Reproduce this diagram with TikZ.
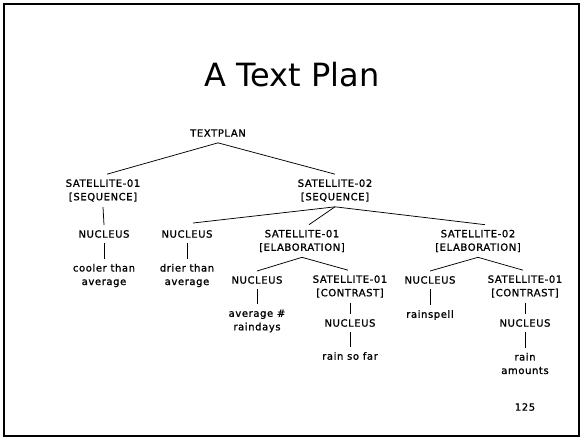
\documentclass[tikz,border=0pt]{standalone}
\usepackage{fontspec}
\setmainfont{DejaVu Sans}
\newfontfamily\lblfont[LetterSpace=6,FakeBold=1.2]{DejaVu Sans}
\begin{document}
\begin{tikzpicture}[x=1pt,y=-1pt,
  lbl/.style={font=\lblfont\fontsize{10}{13.5}\selectfont, align=center, inner xsep=0pt, inner ysep=5pt},
  edge/.style={line width=0.75pt}]
\useasboundingbox (0,0) rectangle (584,439);
\draw[line width=1.6pt] (4,4) rectangle (579,436);
\node[font=\fontsize{32}{36}\selectfont] (title) at (292,75) {A Text Plan};
\node[lbl] (tp) at (218,133) {TEXTPLAN};
\node[lbl] (s1) at (103,190.5) {SATELLITE-01\\{}[SEQUENCE]};
\node[lbl] (s2) at (335,190.5) {SATELLITE-02\\{}[SEQUENCE]};
\node[lbl] (n1) at (104,234) {NUCLEUS};
\node[lbl] (t1) at (104,275.5) {cooler than\\average};
\node[lbl] (n2) at (187,234) {NUCLEUS};
\node[lbl] (t2) at (187,275.5) {drier than\\average};
\node[lbl] (e1) at (302,241) {SATELLITE-01\\{}[ELABORATION]};
\node[lbl] (e2) at (478,241) {SATELLITE-02\\{}[ELABORATION]};
\node[lbl] (n3) at (257,280) {NUCLEUS};
\node[lbl] (t3) at (257,321) {average \#\\raindays};
\node[lbl] (c1) at (350,286.5) {SATELLITE-01\\{}[CONTRAST]};
\node[lbl] (n4) at (350,323) {NUCLEUS};
\node[lbl] (t4) at (350,356) {rain so far};
\node[lbl] (n5) at (430,280) {NUCLEUS};
\node[lbl] (t5) at (430,315) {rainspell};
\node[lbl] (c2) at (525,286.5) {SATELLITE-01\\{}[CONTRAST]};
\node[lbl] (n6) at (525,323) {NUCLEUS};
\node[lbl] (t6) at (525,363.5) {rain\\amounts};
\node[font=\lblfont\fontsize{10}{12}\selectfont] (pg) at (525,407) {125};
\begin{scope}[edge]
\draw ([yshift=-1]tp.south) -- ([xshift=4]s1.north);
\draw ([yshift=-1]tp.south) -- (s2.north);
\draw (s1.south) -- (n1.north);
\draw (n1.south) -- (t1.north);
\draw (n2.south) -- (t2.north);
\draw (s2.south) -- ([xshift=6,yshift=2]n2.north);
\draw (s2.south) -- ([xshift=7]e1.north);
\draw (s2.south) -- ([xshift=7]e2.north);
\draw (e1.south) -- (n3.north);
\draw (e1.south) -- ([xshift=-2]c1.north);
\draw (n3.south) -- (t3.north);
\draw (c1.south) -- (n4.north);
\draw (n4.south) -- (t4.north);
\draw (e2.south) -- (n5.north);
\draw (e2.south) -- ([xshift=-2]c2.north);
\draw (n5.south) -- (t5.north);
\draw (c2.south) -- (n6.north);
\draw (n6.south) -- (t6.north);
\end{scope}
\end{tikzpicture}
\end{document}
